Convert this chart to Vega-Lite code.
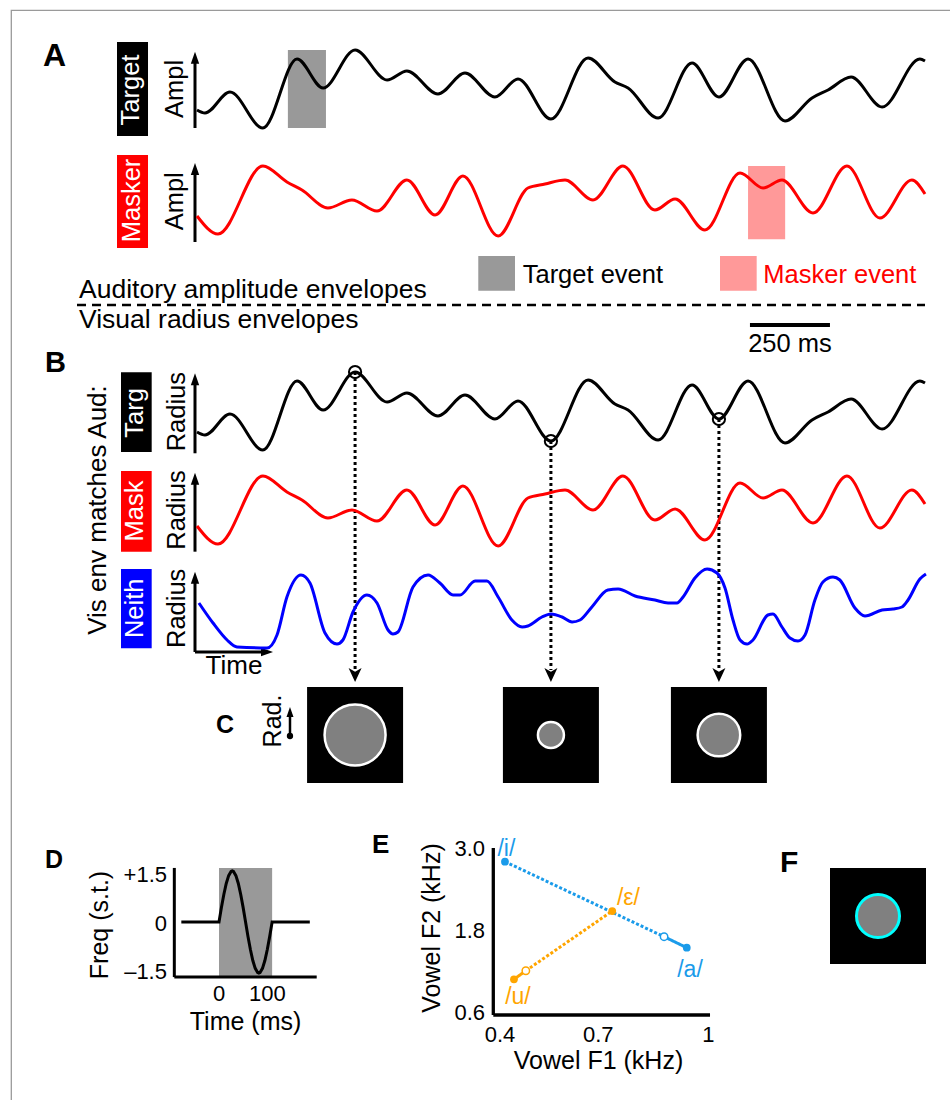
{
  "$schema": "https://vega.github.io/schema/vega-lite/v6.json",
  "width": 950,
  "height": 1100,
  "autosize": {"type": "none"},
  "padding": 0,
  "background": "white",
  "config": {
    "view": {"stroke": null},
    "text": {"font": "Liberation Sans", "fontSize": 25, "baseline": "alphabetic", "align": "center", "color": "black"}
  },
  "datasets": {
    "target": [
      {"t": 0, "a": 0.25}, {"t": 25, "a": 0.2125}, {"t": 103, "a": 0.475}, {"t": 206, "a": 0.025},
      {"t": 312.5, "a": 0.8875}, {"t": 394, "a": 0.525}, {"t": 494, "a": 1.0}, {"t": 594, "a": 0.625},
      {"t": 656, "a": 0.7375}, {"t": 753, "a": 0.45}, {"t": 837.5, "a": 0.7125}, {"t": 931, "a": 0.4125},
      {"t": 1003, "a": 0.6375}, {"t": 1106, "a": 0.1375}, {"t": 1222, "a": 0.9}, {"t": 1306, "a": 0.6},
      {"t": 1347, "a": 0.525}, {"t": 1441, "a": 0.15}, {"t": 1547, "a": 0.8375}, {"t": 1631, "a": 0.4125},
      {"t": 1722, "a": 0.8875}, {"t": 1837.5, "a": 0.1125}, {"t": 1922, "a": 0.4}, {"t": 1972, "a": 0.5},
      {"t": 2044, "a": 0.6625}, {"t": 2141, "a": 0.2875}, {"t": 2259, "a": 0.8875}, {"t": 2275, "a": 0.8625}
    ],
    "masker": [
      {"t": 0, "a": 0.3}, {"t": 65.6, "a": 0.075}, {"t": 206, "a": 0.925}, {"t": 281, "a": 0.725},
      {"t": 328, "a": 0.625}, {"t": 409, "a": 0.4}, {"t": 484, "a": 0.5}, {"t": 562.5, "a": 0.3625},
      {"t": 656, "a": 0.75}, {"t": 744, "a": 0.3125}, {"t": 831, "a": 0.8}, {"t": 941, "a": 0.05},
      {"t": 1034, "a": 0.65}, {"t": 1087.5, "a": 0.7}, {"t": 1150, "a": 0.75}, {"t": 1237.5, "a": 0.5},
      {"t": 1331, "a": 0.925}, {"t": 1431, "a": 0.375}, {"t": 1494, "a": 0.5125}, {"t": 1587.5, "a": 0.125},
      {"t": 1697, "a": 0.8375}, {"t": 1769, "a": 0.65}, {"t": 1828, "a": 0.75}, {"t": 1925, "a": 0.3375},
      {"t": 2031, "a": 0.925}, {"t": 2134, "a": 0.275}, {"t": 2234, "a": 0.75}, {"t": 2275, "a": 0.575}
    ],
    "neither": [
      {"t": 6, "a": 0.6125}, {"t": 50, "a": 0.3625}, {"t": 94, "a": 0.15}, {"t": 125, "a": 0.0625},
      {"t": 219, "a": 0.05}, {"t": 250, "a": 0.2125}, {"t": 281, "a": 0.6875}, {"t": 325, "a": 0.9625},
      {"t": 353, "a": 0.8625}, {"t": 400, "a": 0.2375}, {"t": 437.5, "a": 0.1}, {"t": 456, "a": 0.15},
      {"t": 487.5, "a": 0.5}, {"t": 531, "a": 0.7125}, {"t": 562.5, "a": 0.6125}, {"t": 597, "a": 0.275},
      {"t": 612.5, "a": 0.225}, {"t": 628, "a": 0.25}, {"t": 675, "a": 0.8125}, {"t": 722, "a": 0.9625},
      {"t": 759, "a": 0.8625}, {"t": 800, "a": 0.7125}, {"t": 822, "a": 0.7125}, {"t": 869, "a": 0.8875},
      {"t": 906, "a": 0.8875}, {"t": 941, "a": 0.6875}, {"t": 984, "a": 0.4}, {"t": 1016, "a": 0.3125},
      {"t": 1034, "a": 0.325}, {"t": 1078, "a": 0.4375}, {"t": 1106, "a": 0.475}, {"t": 1141, "a": 0.4375},
      {"t": 1172, "a": 0.375}, {"t": 1197, "a": 0.4}, {"t": 1234, "a": 0.5625}, {"t": 1284, "a": 0.775},
      {"t": 1316, "a": 0.7875}, {"t": 1369, "a": 0.7}, {"t": 1431, "a": 0.65}, {"t": 1472, "a": 0.6125},
      {"t": 1500, "a": 0.6125}, {"t": 1519, "a": 0.6875}, {"t": 1556, "a": 0.925}, {"t": 1594, "a": 1.0375},
      {"t": 1625, "a": 0.9875}, {"t": 1650, "a": 0.8}, {"t": 1675, "a": 0.4}, {"t": 1697, "a": 0.15},
      {"t": 1719, "a": 0.1}, {"t": 1737.5, "a": 0.15}, {"t": 1784, "a": 0.4625}, {"t": 1800, "a": 0.475},
      {"t": 1828, "a": 0.3125}, {"t": 1853, "a": 0.175}, {"t": 1878, "a": 0.1375}, {"t": 1900, "a": 0.2125},
      {"t": 1931, "a": 0.65}, {"t": 1956, "a": 0.875}, {"t": 1987.5, "a": 0.9375}, {"t": 2009, "a": 0.9},
      {"t": 2056, "a": 0.55}, {"t": 2087.5, "a": 0.45}, {"t": 2141, "a": 0.525}, {"t": 2175, "a": 0.5375},
      {"t": 2203, "a": 0.5625}, {"t": 2222, "a": 0.65}, {"t": 2259, "a": 0.9125}, {"t": 2278, "a": 0.975}
    ],
    "events": [
      {"event": "target", "start": 284, "end": 403},
      {"event": "masker", "start": 1722, "end": 1838}
    ],
    "samples": [
      {"t": 494, "a": 1.0, "radius": 30.5},
      {"t": 1106, "a": 0.1375, "radius": 13},
      {"t": 1631, "a": 0.4125, "radius": 21.3}
    ],
    "sweep": [
      {"t": -78, "f": 0}, {"t": 0, "f": 0}, {"t": 5, "f": 0.423}, {"t": 10, "f": 0.811}, {"t": 15, "f": 1.134},
      {"t": 20, "f": 1.364}, {"t": 25, "f": 1.485}, {"t": 27.5, "f": 1.5}, {"t": 30, "f": 1.485}, {"t": 35, "f": 1.364},
      {"t": 40, "f": 1.134}, {"t": 45, "f": 0.811}, {"t": 50, "f": 0.423}, {"t": 55, "f": 0}, {"t": 60, "f": -0.423},
      {"t": 65, "f": -0.811}, {"t": 70, "f": -1.134}, {"t": 75, "f": -1.364}, {"t": 80, "f": -1.485}, {"t": 82.5, "f": -1.5},
      {"t": 85, "f": -1.485}, {"t": 90, "f": -1.364}, {"t": 95, "f": -1.134}, {"t": 100, "f": -0.811}, {"t": 105, "f": -0.423},
      {"t": 110, "f": 0}, {"t": 188, "f": 0}
    ],
    "vowelSegs": [
      {"series": "i-a", "kind": "range", "f1": 0.436, "f2": 2.80, "f1b": 0.878, "f2b": 1.702},
      {"series": "i-a", "kind": "event", "f1": 0.878, "f2": 1.702, "f1b": 0.941, "f2b": 1.541},
      {"series": "u-ε", "kind": "range", "f1": 0.494, "f2": 1.204, "f1b": 0.734, "f2b": 2.078},
      {"series": "u-ε", "kind": "event", "f1": 0.461, "f2": 1.078, "f1b": 0.494, "f2b": 1.204}
    ],
    "vowelPts": [
      {"vowel": "/i/", "series": "i-a", "end": "filled", "f1": 0.436, "f2": 2.80},
      {"vowel": "", "series": "i-a", "end": "open", "f1": 0.878, "f2": 1.702},
      {"vowel": "/a/", "series": "i-a", "end": "filled", "f1": 0.941, "f2": 1.541},
      {"vowel": "/ε/", "series": "u-ε", "end": "filled", "f1": 0.734, "f2": 2.078},
      {"vowel": "", "series": "u-ε", "end": "open", "f1": 0.494, "f2": 1.204},
      {"vowel": "/u/", "series": "u-ε", "end": "filled", "f1": 0.461, "f2": 1.078}
    ]
  },
  "layer": [
    {
      "resolve": {"scale": {"y": "independent"}},
      "layer": [
        {
          "layer": [
            {"data": {"values": [{}]}, "mark": {"type": "rect", "filled": false, "color": "#9a9a9a", "strokeWidth": 1.3},
             "encoding": {"x": {"datum": -580.3, "type": "quantitative", "scale": {"domain": [0, 2275], "range": [197, 925], "nice": false, "zero": false}, "axis": null}, "x2": {"datum": 2520},
                          "y": {"datum": 1.496, "type": "quantitative", "scale": {"domain": [0, 1], "range": [130, 50], "nice": false, "zero": false}, "axis": null}, "y2": {"datum": -13.5}}},
            {"data": {"values": [{}]}, "mark": {"type": "text", "text": "A", "fontSize": 32, "fontWeight": "bold", "align": "left"},
             "encoding": {"x": {"datum": -481.25, "type": "quantitative", "scale": {"domain": [0, 2275], "range": [197, 925], "nice": false, "zero": false}, "axis": null},
                          "y": {"datum": 0.8, "type": "quantitative", "scale": {"domain": [0, 1], "range": [130, 50], "nice": false, "zero": false}, "axis": null}}},
            {"data": {"values": [{}]}, "mark": {"type": "rect", "color": "black"},
             "encoding": {"x": {"datum": -250, "type": "quantitative", "scale": {"domain": [0, 2275], "range": [197, 925], "nice": false, "zero": false}, "axis": null}, "x2": {"datum": -153.1},
                          "y": {"datum": 1.1, "type": "quantitative", "scale": {"domain": [0, 1], "range": [130, 50], "nice": false, "zero": false}, "axis": null}, "y2": {"datum": -0.075}}},
            {"data": {"values": [{}]}, "mark": {"type": "text", "text": "Target", "fontSize": 25.5, "angle": 270, "color": "white"},
             "encoding": {"x": {"datum": -181.25, "type": "quantitative", "scale": {"domain": [0, 2275], "range": [197, 925], "nice": false, "zero": false}, "axis": null},
                          "y": {"datum": 0.5, "type": "quantitative", "scale": {"domain": [0, 1], "range": [130, 50], "nice": false, "zero": false}, "axis": null}}},
            {"data": {"values": [{}]}, "mark": {"type": "text", "text": "Ampl", "fontSize": 25.5, "angle": 270},
             "encoding": {"x": {"datum": -43.75, "type": "quantitative", "scale": {"domain": [0, 2275], "range": [197, 925], "nice": false, "zero": false}, "axis": null},
                          "y": {"datum": 0.5125, "type": "quantitative", "scale": {"domain": [0, 1], "range": [130, 50], "nice": false, "zero": false}, "axis": null}}},
            {"data": {"values": [{}]}, "mark": {"type": "rule", "strokeWidth": 3, "color": "black"},
             "encoding": {"x": {"datum": -6.25, "type": "quantitative", "scale": {"domain": [0, 2275], "range": [197, 925], "nice": false, "zero": false}, "axis": null},
                          "y": {"datum": 0.025, "type": "quantitative", "scale": {"domain": [0, 1], "range": [130, 50], "nice": false, "zero": false}, "axis": null}, "y2": {"datum": 0.9}}},
            {"data": {"values": [{}]}, "mark": {"type": "point", "shape": "M0,-1L0.7,1L-0.7,1Z", "size": 144, "filled": true, "color": "black", "opacity": 1},
             "encoding": {"x": {"datum": -6.25, "type": "quantitative", "scale": {"domain": [0, 2275], "range": [197, 925], "nice": false, "zero": false}, "axis": null},
                          "y": {"datum": 0.904, "type": "quantitative", "scale": {"domain": [0, 1], "range": [130, 50], "nice": false, "zero": false}, "axis": null}}},
            {"data": {"name": "events"}, "transform": [{"filter": "datum.event == 'target'"}], "mark": {"type": "rect", "color": "#999999"},
             "encoding": {"x": {"field": "start", "type": "quantitative", "scale": {"domain": [0, 2275], "range": [197, 925], "nice": false, "zero": false}, "axis": null}, "x2": {"field": "end"},
                          "y": {"datum": 0.025, "type": "quantitative", "scale": {"domain": [0, 1], "range": [130, 50], "nice": false, "zero": false}, "axis": null}, "y2": {"datum": 1.0}}},
            {"data": {"name": "target"}, "mark": {"type": "line", "color": "black", "strokeWidth": 3, "interpolate": "monotone"},
             "encoding": {"x": {"field": "t", "type": "quantitative", "scale": {"domain": [0, 2275], "range": [197, 925], "nice": false, "zero": false}, "axis": null},
                          "y": {"field": "a", "type": "quantitative", "scale": {"domain": [0, 1], "range": [130, 50], "nice": false, "zero": false}, "axis": null}}}
          ]
        },
        {
          "layer": [
            {"data": {"values": [{}]}, "mark": {"type": "rect", "color": "#ff0000"},
             "encoding": {"x": {"datum": -250, "type": "quantitative", "scale": {"domain": [0, 2275], "range": [197, 925], "nice": false, "zero": false}, "axis": null}, "x2": {"datum": -153.1},
                          "y": {"datum": 1.0625, "type": "quantitative", "scale": {"domain": [0, 1], "range": [240, 160], "nice": false, "zero": false}, "axis": null}, "y2": {"datum": -0.1}}},
            {"data": {"values": [{}]}, "mark": {"type": "text", "text": "Masker", "fontSize": 25.5, "angle": 270, "color": "white"},
             "encoding": {"x": {"datum": -178.1, "type": "quantitative", "scale": {"domain": [0, 2275], "range": [197, 925], "nice": false, "zero": false}, "axis": null},
                          "y": {"datum": 0.494, "type": "quantitative", "scale": {"domain": [0, 1], "range": [240, 160], "nice": false, "zero": false}, "axis": null}}},
            {"data": {"values": [{}]}, "mark": {"type": "text", "text": "Ampl", "fontSize": 25.5, "angle": 270},
             "encoding": {"x": {"datum": -43.75, "type": "quantitative", "scale": {"domain": [0, 2275], "range": [197, 925], "nice": false, "zero": false}, "axis": null},
                          "y": {"datum": 0.484, "type": "quantitative", "scale": {"domain": [0, 1], "range": [240, 160], "nice": false, "zero": false}, "axis": null}}},
            {"data": {"values": [{}]}, "mark": {"type": "rule", "strokeWidth": 3, "color": "black"},
             "encoding": {"x": {"datum": -6.25, "type": "quantitative", "scale": {"domain": [0, 2275], "range": [197, 925], "nice": false, "zero": false}, "axis": null},
                          "y": {"datum": -0.025, "type": "quantitative", "scale": {"domain": [0, 1], "range": [240, 160], "nice": false, "zero": false}, "axis": null}, "y2": {"datum": 0.86}}},
            {"data": {"values": [{}]}, "mark": {"type": "point", "shape": "M0,-1L0.7,1L-0.7,1Z", "size": 144, "filled": true, "color": "black", "opacity": 1},
             "encoding": {"x": {"datum": -6.25, "type": "quantitative", "scale": {"domain": [0, 2275], "range": [197, 925], "nice": false, "zero": false}, "axis": null},
                          "y": {"datum": 0.8875, "type": "quantitative", "scale": {"domain": [0, 1], "range": [240, 160], "nice": false, "zero": false}, "axis": null}}},
            {"data": {"name": "events"}, "transform": [{"filter": "datum.event == 'masker'"}], "mark": {"type": "rect", "color": "#ff9999"},
             "encoding": {"x": {"field": "start", "type": "quantitative", "scale": {"domain": [0, 2275], "range": [197, 925], "nice": false, "zero": false}, "axis": null}, "x2": {"field": "end"},
                          "y": {"datum": 0.00875, "type": "quantitative", "scale": {"domain": [0, 1], "range": [240, 160], "nice": false, "zero": false}, "axis": null}, "y2": {"datum": 0.925}}},
            {"data": {"name": "masker"}, "mark": {"type": "line", "color": "#ff0000", "strokeWidth": 3, "interpolate": "monotone"},
             "encoding": {"x": {"field": "t", "type": "quantitative", "scale": {"domain": [0, 2275], "range": [197, 925], "nice": false, "zero": false}, "axis": null},
                          "y": {"field": "a", "type": "quantitative", "scale": {"domain": [0, 1], "range": [240, 160], "nice": false, "zero": false}, "axis": null}}},
            {"data": {"values": [{}]}, "mark": {"type": "rect", "color": "#999999"},
             "encoding": {"x": {"datum": 879, "type": "quantitative", "scale": {"domain": [0, 2275], "range": [197, 925], "nice": false, "zero": false}, "axis": null}, "x2": {"datum": 993.75},
                          "y": {"datum": -0.2, "type": "quantitative", "scale": {"domain": [0, 1], "range": [240, 160], "nice": false, "zero": false}, "axis": null}, "y2": {"datum": -0.634}}},
            {"data": {"values": [{}]}, "mark": {"type": "text", "text": "Target event", "fontSize": 25.5, "align": "left"},
             "encoding": {"x": {"datum": 1017.8, "type": "quantitative", "scale": {"domain": [0, 2275], "range": [197, 925], "nice": false, "zero": false}, "axis": null},
                          "y": {"datum": -0.534, "type": "quantitative", "scale": {"domain": [0, 1], "range": [240, 160], "nice": false, "zero": false}, "axis": null}}},
            {"data": {"values": [{}]}, "mark": {"type": "rect", "color": "#ff9999"},
             "encoding": {"x": {"datum": 1634.4, "type": "quantitative", "scale": {"domain": [0, 2275], "range": [197, 925], "nice": false, "zero": false}, "axis": null}, "x2": {"datum": 1749},
                          "y": {"datum": -0.2, "type": "quantitative", "scale": {"domain": [0, 1], "range": [240, 160], "nice": false, "zero": false}, "axis": null}, "y2": {"datum": -0.634}}},
            {"data": {"values": [{}]}, "mark": {"type": "text", "text": "Masker event", "fontSize": 25.5, "align": "left", "color": "#ff0000"},
             "encoding": {"x": {"datum": 1769.7, "type": "quantitative", "scale": {"domain": [0, 2275], "range": [197, 925], "nice": false, "zero": false}, "axis": null},
                          "y": {"datum": -0.534, "type": "quantitative", "scale": {"domain": [0, 1], "range": [240, 160], "nice": false, "zero": false}, "axis": null}}},
            {"data": {"values": [{}]}, "mark": {"type": "rule", "strokeWidth": 2.5, "color": "black", "strokeDash": [9, 6]},
             "encoding": {"x": {"datum": -375, "type": "quantitative", "scale": {"domain": [0, 2275], "range": [197, 925], "nice": false, "zero": false}, "axis": null}, "x2": {"datum": 2275},
                          "y": {"datum": -0.8125, "type": "quantitative", "scale": {"domain": [0, 1], "range": [240, 160], "nice": false, "zero": false}, "axis": null}}},
            {"data": {"values": [{}]}, "mark": {"type": "text", "text": "Auditory amplitude envelopes", "fontSize": 26.5, "align": "left"},
             "encoding": {"x": {"datum": -368.75, "type": "quantitative", "scale": {"domain": [0, 2275], "range": [197, 925], "nice": false, "zero": false}, "axis": null},
                          "y": {"datum": -0.72125, "type": "quantitative", "scale": {"domain": [0, 1], "range": [240, 160], "nice": false, "zero": false}, "axis": null}}},
            {"data": {"values": [{}]}, "mark": {"type": "text", "text": "Visual radius envelopes", "fontSize": 26.5, "align": "left"},
             "encoding": {"x": {"datum": -368.75, "type": "quantitative", "scale": {"domain": [0, 2275], "range": [197, 925], "nice": false, "zero": false}, "axis": null},
                          "y": {"datum": -1.1, "type": "quantitative", "scale": {"domain": [0, 1], "range": [240, 160], "nice": false, "zero": false}, "axis": null}}},
            {"data": {"values": [{}]}, "mark": {"type": "rule", "strokeWidth": 4, "color": "black"},
             "encoding": {"x": {"datum": 1728, "type": "quantitative", "scale": {"domain": [0, 2275], "range": [197, 925], "nice": false, "zero": false}, "axis": null}, "x2": {"datum": 1978},
                          "y": {"datum": -1.0625, "type": "quantitative", "scale": {"domain": [0, 1], "range": [240, 160], "nice": false, "zero": false}, "axis": null}}},
            {"data": {"values": [{}]}, "mark": {"type": "text", "text": "250 ms", "fontSize": 25.5},
             "encoding": {"x": {"datum": 1853, "type": "quantitative", "scale": {"domain": [0, 2275], "range": [197, 925], "nice": false, "zero": false}, "axis": null},
                          "y": {"datum": -1.4, "type": "quantitative", "scale": {"domain": [0, 1], "range": [240, 160], "nice": false, "zero": false}, "axis": null}}}
          ]
        },
        {
          "layer": [
            {"data": {"values": [{}]}, "mark": {"type": "text", "text": "B", "fontSize": 29, "fontWeight": "bold", "align": "left"},
             "encoding": {"x": {"datum": -475, "type": "quantitative", "scale": {"domain": [0, 2275], "range": [197, 925], "nice": false, "zero": false}, "axis": null},
                          "y": {"datum": 1.0, "type": "quantitative", "scale": {"domain": [0, 1], "range": [452, 372], "nice": false, "zero": false}, "axis": null}}},
            {"data": {"values": [{}]}, "mark": {"type": "text", "text": "Vis env matches Aud:", "fontSize": 26, "angle": 270},
             "encoding": {"x": {"datum": -284.4, "type": "quantitative", "scale": {"domain": [0, 2275], "range": [197, 925], "nice": false, "zero": false}, "axis": null},
                          "y": {"datum": -0.725, "type": "quantitative", "scale": {"domain": [0, 1], "range": [452, 372], "nice": false, "zero": false}, "axis": null}}},
            {"data": {"values": [{}]}, "mark": {"type": "rect", "color": "black"},
             "encoding": {"x": {"datum": -237.5, "type": "quantitative", "scale": {"domain": [0, 2275], "range": [197, 925], "nice": false, "zero": false}, "axis": null}, "x2": {"datum": -141.6},
                          "y": {"datum": 0, "type": "quantitative", "scale": {"domain": [0, 1], "range": [452, 372], "nice": false, "zero": false}, "axis": null}, "y2": {"datum": 0.996}}},
            {"data": {"values": [{}]}, "mark": {"type": "text", "text": "Targ", "fontSize": 25.5, "angle": 270, "color": "white"},
             "encoding": {"x": {"datum": -168.75, "type": "quantitative", "scale": {"domain": [0, 2275], "range": [197, 925], "nice": false, "zero": false}, "axis": null},
                          "y": {"datum": 0.4875, "type": "quantitative", "scale": {"domain": [0, 1], "range": [452, 372], "nice": false, "zero": false}, "axis": null}}},
            {"data": {"values": [{}]}, "mark": {"type": "text", "text": "Radius", "fontSize": 25.5, "angle": 270},
             "encoding": {"x": {"datum": -39.06, "type": "quantitative", "scale": {"domain": [0, 2275], "range": [197, 925], "nice": false, "zero": false}, "axis": null},
                          "y": {"datum": 0.504, "type": "quantitative", "scale": {"domain": [0, 1], "range": [452, 372], "nice": false, "zero": false}, "axis": null}}},
            {"data": {"values": [{}]}, "mark": {"type": "rule", "strokeWidth": 3, "color": "black"},
             "encoding": {"x": {"datum": -6.25, "type": "quantitative", "scale": {"domain": [0, 2275], "range": [197, 925], "nice": false, "zero": false}, "axis": null},
                          "y": {"datum": -0.016, "type": "quantitative", "scale": {"domain": [0, 1], "range": [452, 372], "nice": false, "zero": false}, "axis": null}, "y2": {"datum": 0.88}}},
            {"data": {"values": [{}]}, "mark": {"type": "point", "shape": "M0,-1L0.7,1L-0.7,1Z", "size": 144, "filled": true, "color": "black", "opacity": 1},
             "encoding": {"x": {"datum": -6.25, "type": "quantitative", "scale": {"domain": [0, 2275], "range": [197, 925], "nice": false, "zero": false}, "axis": null},
                          "y": {"datum": 0.909, "type": "quantitative", "scale": {"domain": [0, 1], "range": [452, 372], "nice": false, "zero": false}, "axis": null}}},
            {"data": {"name": "target"}, "mark": {"type": "line", "color": "black", "strokeWidth": 3, "interpolate": "monotone"},
             "encoding": {"x": {"field": "t", "type": "quantitative", "scale": {"domain": [0, 2275], "range": [197, 925], "nice": false, "zero": false}, "axis": null},
                          "y": {"field": "a", "type": "quantitative", "scale": {"domain": [0, 1], "range": [452, 372], "nice": false, "zero": false}, "axis": null}}},
            {"data": {"name": "samples"}, "mark": {"type": "rule", "strokeWidth": 3, "color": "black", "strokeDash": [3, 3]},
             "encoding": {"x": {"field": "t", "type": "quantitative", "scale": {"domain": [0, 2275], "range": [197, 925], "nice": false, "zero": false}, "axis": null},
                          "y": {"field": "a", "type": "quantitative", "scale": {"domain": [0, 1], "range": [452, 372], "nice": false, "zero": false}, "axis": null}, "y2": {"datum": -2.725}}},
            {"data": {"name": "samples"}, "mark": {"type": "point", "shape": "circle", "size": 150, "filled": false, "color": "black", "strokeWidth": 2, "opacity": 1},
             "encoding": {"x": {"field": "t", "type": "quantitative", "scale": {"domain": [0, 2275], "range": [197, 925], "nice": false, "zero": false}, "axis": null},
                          "y": {"field": "a", "type": "quantitative", "scale": {"domain": [0, 1], "range": [452, 372], "nice": false, "zero": false}, "axis": null}}},
            {"data": {"name": "samples"}, "mark": {"type": "point", "shape": "M0,1L-0.93,-1L0,-0.45L0.93,-1Z", "size": 196, "filled": true, "color": "black", "opacity": 1},
             "encoding": {"x": {"field": "t", "type": "quantitative", "scale": {"domain": [0, 2275], "range": [197, 925], "nice": false, "zero": false}, "axis": null},
                          "y": {"datum": -2.7875, "type": "quantitative", "scale": {"domain": [0, 1], "range": [452, 372], "nice": false, "zero": false}, "axis": null}}}
          ]
        },
        {
          "layer": [
            {"data": {"values": [{}]}, "mark": {"type": "rect", "color": "#ff0000"},
             "encoding": {"x": {"datum": -237.5, "type": "quantitative", "scale": {"domain": [0, 2275], "range": [197, 925], "nice": false, "zero": false}, "axis": null}, "x2": {"datum": -141.6},
                          "y": {"datum": -0.021, "type": "quantitative", "scale": {"domain": [0, 1], "range": [550, 470], "nice": false, "zero": false}, "axis": null}, "y2": {"datum": 0.9875}}},
            {"data": {"values": [{}]}, "mark": {"type": "text", "text": "Mask", "fontSize": 25.5, "angle": 270, "color": "white"},
             "encoding": {"x": {"datum": -168.75, "type": "quantitative", "scale": {"domain": [0, 2275], "range": [197, 925], "nice": false, "zero": false}, "axis": null},
                          "y": {"datum": 0.4875, "type": "quantitative", "scale": {"domain": [0, 1], "range": [550, 470], "nice": false, "zero": false}, "axis": null}}},
            {"data": {"values": [{}]}, "mark": {"type": "text", "text": "Radius", "fontSize": 25.5, "angle": 270},
             "encoding": {"x": {"datum": -39.06, "type": "quantitative", "scale": {"domain": [0, 2275], "range": [197, 925], "nice": false, "zero": false}, "axis": null},
                          "y": {"datum": 0.5, "type": "quantitative", "scale": {"domain": [0, 1], "range": [550, 470], "nice": false, "zero": false}, "axis": null}}},
            {"data": {"values": [{}]}, "mark": {"type": "rule", "strokeWidth": 3, "color": "black"},
             "encoding": {"x": {"datum": -6.25, "type": "quantitative", "scale": {"domain": [0, 2275], "range": [197, 925], "nice": false, "zero": false}, "axis": null},
                          "y": {"datum": -0.021, "type": "quantitative", "scale": {"domain": [0, 1], "range": [550, 470], "nice": false, "zero": false}, "axis": null}, "y2": {"datum": 0.86}}},
            {"data": {"values": [{}]}, "mark": {"type": "point", "shape": "M0,-1L0.7,1L-0.7,1Z", "size": 144, "filled": true, "color": "black", "opacity": 1},
             "encoding": {"x": {"datum": -6.25, "type": "quantitative", "scale": {"domain": [0, 2275], "range": [197, 925], "nice": false, "zero": false}, "axis": null},
                          "y": {"datum": 0.891, "type": "quantitative", "scale": {"domain": [0, 1], "range": [550, 470], "nice": false, "zero": false}, "axis": null}}},
            {"data": {"name": "masker"}, "mark": {"type": "line", "color": "#ff0000", "strokeWidth": 3, "interpolate": "monotone"},
             "encoding": {"x": {"field": "t", "type": "quantitative", "scale": {"domain": [0, 2275], "range": [197, 925], "nice": false, "zero": false}, "axis": null},
                          "y": {"field": "a", "type": "quantitative", "scale": {"domain": [0, 1], "range": [550, 470], "nice": false, "zero": false}, "axis": null}}}
          ]
        },
        {
          "layer": [
            {"data": {"values": [{}]}, "mark": {"type": "rect", "color": "#0000ff"},
             "encoding": {"x": {"datum": -237.5, "type": "quantitative", "scale": {"domain": [0, 2275], "range": [197, 925], "nice": false, "zero": false}, "axis": null}, "x2": {"datum": -141.6},
                          "y": {"datum": 0.046, "type": "quantitative", "scale": {"domain": [0, 1], "range": [652, 572], "nice": false, "zero": false}, "axis": null}, "y2": {"datum": 1.0375}}},
            {"data": {"values": [{}]}, "mark": {"type": "text", "text": "Neith", "fontSize": 25.5, "angle": 270, "color": "white"},
             "encoding": {"x": {"datum": -168.75, "type": "quantitative", "scale": {"domain": [0, 2275], "range": [197, 925], "nice": false, "zero": false}, "axis": null},
                          "y": {"datum": 0.546, "type": "quantitative", "scale": {"domain": [0, 1], "range": [652, 572], "nice": false, "zero": false}, "axis": null}}},
            {"data": {"values": [{}]}, "mark": {"type": "text", "text": "Radius", "fontSize": 25.5, "angle": 270},
             "encoding": {"x": {"datum": -39.06, "type": "quantitative", "scale": {"domain": [0, 2275], "range": [197, 925], "nice": false, "zero": false}, "axis": null},
                          "y": {"datum": 0.546, "type": "quantitative", "scale": {"domain": [0, 1], "range": [652, 572], "nice": false, "zero": false}, "axis": null}}},
            {"data": {"values": [{}]}, "mark": {"type": "rule", "strokeWidth": 3, "color": "black"},
             "encoding": {"x": {"datum": -6.25, "type": "quantitative", "scale": {"domain": [0, 2275], "range": [197, 925], "nice": false, "zero": false}, "axis": null},
                          "y": {"datum": 0, "type": "quantitative", "scale": {"domain": [0, 1], "range": [652, 572], "nice": false, "zero": false}, "axis": null}, "y2": {"datum": 0.89}}},
            {"data": {"values": [{}]}, "mark": {"type": "point", "shape": "M0,-1L0.7,1L-0.7,1Z", "size": 144, "filled": true, "color": "black", "opacity": 1},
             "encoding": {"x": {"datum": -6.25, "type": "quantitative", "scale": {"domain": [0, 2275], "range": [197, 925], "nice": false, "zero": false}, "axis": null},
                          "y": {"datum": 0.929, "type": "quantitative", "scale": {"domain": [0, 1], "range": [652, 572], "nice": false, "zero": false}, "axis": null}}},
            {"data": {"values": [{}]}, "mark": {"type": "rule", "strokeWidth": 3, "color": "black"},
             "encoding": {"x": {"datum": -6.25, "type": "quantitative", "scale": {"domain": [0, 2275], "range": [197, 925], "nice": false, "zero": false}, "axis": null}, "x2": {"datum": 215.6},
                          "y": {"datum": 0, "type": "quantitative", "scale": {"domain": [0, 1], "range": [652, 572], "nice": false, "zero": false}, "axis": null}}},
            {"data": {"values": [{}]}, "mark": {"type": "point", "shape": "M1,0L-1,-0.7L-1,0.7Z", "size": 144, "filled": true, "color": "black", "opacity": 1},
             "encoding": {"x": {"datum": 218.75, "type": "quantitative", "scale": {"domain": [0, 2275], "range": [197, 925], "nice": false, "zero": false}, "axis": null},
                          "y": {"datum": 0, "type": "quantitative", "scale": {"domain": [0, 1], "range": [652, 572], "nice": false, "zero": false}, "axis": null}}},
            {"data": {"values": [{}]}, "mark": {"type": "text", "text": "Time", "fontSize": 26},
             "encoding": {"x": {"datum": 115.6, "type": "quantitative", "scale": {"domain": [0, 2275], "range": [197, 925], "nice": false, "zero": false}, "axis": null},
                          "y": {"datum": -0.275, "type": "quantitative", "scale": {"domain": [0, 1], "range": [652, 572], "nice": false, "zero": false}, "axis": null}}},
            {"data": {"name": "neither"}, "mark": {"type": "line", "color": "#0000ff", "strokeWidth": 3, "interpolate": "monotone"},
             "encoding": {"x": {"field": "t", "type": "quantitative", "scale": {"domain": [0, 2275], "range": [197, 925], "nice": false, "zero": false}, "axis": null},
                          "y": {"field": "a", "type": "quantitative", "scale": {"domain": [0, 1], "range": [652, 572], "nice": false, "zero": false}, "axis": null}}}
          ]
        },
        {
          "layer": [
            {"data": {"name": "samples"}, "mark": {"type": "point", "shape": "square", "size": 9216, "filled": true, "color": "black", "opacity": 1, "strokeWidth": 0},
             "encoding": {"x": {"field": "t", "type": "quantitative", "scale": {"domain": [0, 2275], "range": [197, 925], "nice": false, "zero": false}, "axis": null},
                          "y": {"datum": 0.5, "type": "quantitative", "scale": {"domain": [0, 1], "range": [783, 687], "nice": false, "zero": false}, "axis": null}}},
            {"data": {"name": "samples"}, "mark": {"type": "point", "shape": "circle", "filled": true, "fill": "#808080", "stroke": "white", "strokeWidth": 2.5, "opacity": 1},
             "encoding": {"x": {"field": "t", "type": "quantitative", "scale": {"domain": [0, 2275], "range": [197, 925], "nice": false, "zero": false}, "axis": null},
                          "y": {"datum": 0.5, "type": "quantitative", "scale": {"domain": [0, 1], "range": [783, 687], "nice": false, "zero": false}, "axis": null},
                          "size": {"field": "radius", "type": "quantitative", "scale": {"type": "pow", "exponent": 2, "domain": [0, 40], "range": [0, 6400], "nice": false, "zero": false}, "legend": null}}},
            {"data": {"values": [{}]}, "mark": {"type": "text", "text": "C", "fontSize": 25, "fontWeight": "bold", "align": "left"},
             "encoding": {"x": {"datum": 59.4, "type": "quantitative", "scale": {"domain": [0, 2275], "range": [197, 925], "nice": false, "zero": false}, "axis": null},
                          "y": {"datum": 0.521, "type": "quantitative", "scale": {"domain": [0, 1], "range": [783, 687], "nice": false, "zero": false}, "axis": null}}},
            {"data": {"values": [{}]}, "mark": {"type": "text", "text": "Rad.", "fontSize": 25, "angle": 270},
             "encoding": {"x": {"datum": 264, "type": "quantitative", "scale": {"domain": [0, 2275], "range": [197, 925], "nice": false, "zero": false}, "axis": null},
                          "y": {"datum": 0.646, "type": "quantitative", "scale": {"domain": [0, 1], "range": [783, 687], "nice": false, "zero": false}, "axis": null}}},
            {"data": {"values": [{}]}, "mark": {"type": "rule", "strokeWidth": 2.5, "color": "black"},
             "encoding": {"x": {"datum": 290.6, "type": "quantitative", "scale": {"domain": [0, 2275], "range": [197, 925], "nice": false, "zero": false}, "axis": null},
                          "y": {"datum": 0.4896, "type": "quantitative", "scale": {"domain": [0, 1], "range": [783, 687], "nice": false, "zero": false}, "axis": null}, "y2": {"datum": 0.74}}},
            {"data": {"values": [{}]}, "mark": {"type": "point", "shape": "M0,-1L0.7,1L-0.7,1Z", "size": 100, "filled": true, "color": "black", "opacity": 1},
             "encoding": {"x": {"datum": 290.6, "type": "quantitative", "scale": {"domain": [0, 2275], "range": [197, 925], "nice": false, "zero": false}, "axis": null},
                          "y": {"datum": 0.7396, "type": "quantitative", "scale": {"domain": [0, 1], "range": [783, 687], "nice": false, "zero": false}, "axis": null}}},
            {"data": {"values": [{}]}, "mark": {"type": "point", "shape": "circle", "size": 40, "filled": true, "color": "black", "opacity": 1},
             "encoding": {"x": {"datum": 290.6, "type": "quantitative", "scale": {"domain": [0, 2275], "range": [197, 925], "nice": false, "zero": false}, "axis": null},
                          "y": {"datum": 0.4896, "type": "quantitative", "scale": {"domain": [0, 1], "range": [783, 687], "nice": false, "zero": false}, "axis": null}}}
          ]
        }
      ]
    },
    {
      "layer": [
        {"data": {"values": [{}]}, "mark": {"type": "rect", "color": "#999999"},
         "encoding": {"x": {"datum": 0, "type": "quantitative", "scale": {"domain": [-100, 200], "range": [170.7, 315.6], "nice": false, "zero": false}, "axis": null}, "x2": {"datum": 110},
                      "y": {"datum": -1.62, "type": "quantitative", "scale": {"domain": [-1.5, 1.5], "range": [973, 871], "nice": false, "zero": false}, "axis": null}, "y2": {"datum": 1.59}}},
        {"data": {"name": "sweep"}, "mark": {"type": "line", "color": "black", "strokeWidth": 3, "interpolate": "linear"},
         "encoding": {"x": {"field": "t", "type": "quantitative", "scale": {"domain": [-100, 200], "range": [170.7, 315.6], "nice": false, "zero": false}, "axis": null},
                      "y": {"field": "f", "type": "quantitative", "scale": {"domain": [-1.5, 1.5], "range": [973, 871], "nice": false, "zero": false}, "axis": null}}},
        {"data": {"values": [{}]}, "mark": {"type": "rule", "strokeWidth": 3, "color": "black"},
         "encoding": {"x": {"datum": -92.5, "type": "quantitative", "scale": {"domain": [-100, 200], "range": [170.7, 315.6], "nice": false, "zero": false}, "axis": null},
                      "y": {"datum": -1.62, "type": "quantitative", "scale": {"domain": [-1.5, 1.5], "range": [973, 871], "nice": false, "zero": false}, "axis": null}, "y2": {"datum": 1.59}}},
        {"data": {"values": [{}]}, "mark": {"type": "rule", "strokeWidth": 3, "color": "black"},
         "encoding": {"x": {"datum": -92.5, "type": "quantitative", "scale": {"domain": [-100, 200], "range": [170.7, 315.6], "nice": false, "zero": false}, "axis": null}, "x2": {"datum": 202.3},
                      "y": {"datum": -1.62, "type": "quantitative", "scale": {"domain": [-1.5, 1.5], "range": [973, 871], "nice": false, "zero": false}, "axis": null}}},
        {"data": {"values": [{}]}, "mark": {"type": "text", "text": "+1.5", "fontSize": 22, "align": "right"},
         "encoding": {"x": {"datum": -107.7, "type": "quantitative", "scale": {"domain": [-100, 200], "range": [170.7, 315.6], "nice": false, "zero": false}, "axis": null},
                      "y": {"datum": 1.162, "type": "quantitative", "scale": {"domain": [-1.5, 1.5], "range": [973, 871], "nice": false, "zero": false}, "axis": null}}},
        {"data": {"values": [{}]}, "mark": {"type": "text", "text": "0", "fontSize": 22, "align": "right"},
         "encoding": {"x": {"datum": -107.7, "type": "quantitative", "scale": {"domain": [-100, 200], "range": [170.7, 315.6], "nice": false, "zero": false}, "axis": null},
                      "y": {"datum": -0.25, "type": "quantitative", "scale": {"domain": [-1.5, 1.5], "range": [973, 871], "nice": false, "zero": false}, "axis": null}}},
        {"data": {"values": [{}]}, "mark": {"type": "text", "text": "–1.5", "fontSize": 22, "align": "right"},
         "encoding": {"x": {"datum": -107.7, "type": "quantitative", "scale": {"domain": [-100, 200], "range": [170.7, 315.6], "nice": false, "zero": false}, "axis": null},
                      "y": {"datum": -1.691, "type": "quantitative", "scale": {"domain": [-1.5, 1.5], "range": [973, 871], "nice": false, "zero": false}, "axis": null}}},
        {"data": {"values": [{}]}, "mark": {"type": "text", "text": "0", "fontSize": 22},
         "encoding": {"x": {"datum": 0, "type": "quantitative", "scale": {"domain": [-100, 200], "range": [170.7, 315.6], "nice": false, "zero": false}, "axis": null},
                      "y": {"datum": -2.309, "type": "quantitative", "scale": {"domain": [-1.5, 1.5], "range": [973, 871], "nice": false, "zero": false}, "axis": null}}},
        {"data": {"values": [{}]}, "mark": {"type": "text", "text": "100", "fontSize": 22},
         "encoding": {"x": {"datum": 100, "type": "quantitative", "scale": {"domain": [-100, 200], "range": [170.7, 315.6], "nice": false, "zero": false}, "axis": null},
                      "y": {"datum": -2.309, "type": "quantitative", "scale": {"domain": [-1.5, 1.5], "range": [973, 871], "nice": false, "zero": false}, "axis": null}}},
        {"data": {"values": [{}]}, "mark": {"type": "text", "text": "Time (ms)", "fontSize": 25},
         "encoding": {"x": {"datum": 54.9, "type": "quantitative", "scale": {"domain": [-100, 200], "range": [170.7, 315.6], "nice": false, "zero": false}, "axis": null},
                      "y": {"datum": -3.162, "type": "quantitative", "scale": {"domain": [-1.5, 1.5], "range": [973, 871], "nice": false, "zero": false}, "axis": null}}},
        {"data": {"values": [{}]}, "mark": {"type": "text", "text": "Freq (s.t.)", "fontSize": 25, "angle": 270},
         "encoding": {"x": {"datum": -229.8, "type": "quantitative", "scale": {"domain": [-100, 200], "range": [170.7, 315.6], "nice": false, "zero": false}, "axis": null},
                      "y": {"datum": -0.088, "type": "quantitative", "scale": {"domain": [-1.5, 1.5], "range": [973, 871], "nice": false, "zero": false}, "axis": null}}},
        {"data": {"values": [{}]}, "mark": {"type": "text", "text": "D", "fontSize": 25, "fontWeight": "bold", "align": "left"},
         "encoding": {"x": {"datum": -360.2, "type": "quantitative", "scale": {"domain": [-100, 200], "range": [170.7, 315.6], "nice": false, "zero": false}, "axis": null},
                      "y": {"datum": 1.588, "type": "quantitative", "scale": {"domain": [-1.5, 1.5], "range": [973, 871], "nice": false, "zero": false}, "axis": null}}}
      ]
    },
    {
      "layer": [
        {"data": {"values": [{}]}, "mark": {"type": "rule", "strokeWidth": 3.3, "color": "black"},
         "encoding": {"x": {"datum": 0.4036, "type": "quantitative", "scale": {"domain": [0.4, 1.0], "range": [492, 708], "nice": false, "zero": false}, "axis": null},
                      "y": {"datum": 0.556, "type": "quantitative", "scale": {"domain": [0.6, 3.0], "range": [1012, 848], "nice": false, "zero": false}, "axis": null}, "y2": {"datum": 3.0}}},
        {"data": {"values": [{}]}, "mark": {"type": "rule", "strokeWidth": 3.3, "color": "black"},
         "encoding": {"x": {"datum": 0.4036, "type": "quantitative", "scale": {"domain": [0.4, 1.0], "range": [492, 708], "nice": false, "zero": false}, "axis": null}, "x2": {"datum": 1.0056},
                      "y": {"datum": 0.556, "type": "quantitative", "scale": {"domain": [0.6, 3.0], "range": [1012, 848], "nice": false, "zero": false}, "axis": null}}},
        {"data": {"name": "vowelSegs"}, "mark": {"type": "rule", "strokeWidth": 3},
         "encoding": {"x": {"field": "f1", "type": "quantitative", "scale": {"domain": [0.4, 1.0], "range": [492, 708], "nice": false, "zero": false}, "axis": null}, "x2": {"field": "f1b"},
                      "y": {"field": "f2", "type": "quantitative", "scale": {"domain": [0.6, 3.0], "range": [1012, 848], "nice": false, "zero": false}, "axis": null}, "y2": {"field": "f2b"},
                      "color": {"field": "series", "type": "nominal", "scale": {"domain": ["i-a", "u-ε"], "range": ["#1a9bea", "#ffa500"]}, "legend": null},
                      "strokeDash": {"field": "kind", "type": "nominal", "scale": {"domain": ["range", "event"], "range": [[3, 2], [1, 0]]}, "legend": null}}},
        {"data": {"name": "vowelPts"}, "transform": [{"filter": "datum.end == 'filled'"}], "mark": {"type": "point", "shape": "circle", "filled": true, "size": 60, "opacity": 1},
         "encoding": {"x": {"field": "f1", "type": "quantitative", "scale": {"domain": [0.4, 1.0], "range": [492, 708], "nice": false, "zero": false}, "axis": null},
                      "y": {"field": "f2", "type": "quantitative", "scale": {"domain": [0.6, 3.0], "range": [1012, 848], "nice": false, "zero": false}, "axis": null},
                      "color": {"field": "series", "type": "nominal", "scale": {"domain": ["i-a", "u-ε"], "range": ["#1a9bea", "#ffa500"]}, "legend": null}}},
        {"data": {"name": "vowelPts"}, "transform": [{"filter": "datum.end == 'open'"}], "mark": {"type": "point", "shape": "circle", "fill": "white", "size": 55, "strokeWidth": 1.5, "opacity": 1},
         "encoding": {"x": {"field": "f1", "type": "quantitative", "scale": {"domain": [0.4, 1.0], "range": [492, 708], "nice": false, "zero": false}, "axis": null},
                      "y": {"field": "f2", "type": "quantitative", "scale": {"domain": [0.6, 3.0], "range": [1012, 848], "nice": false, "zero": false}, "axis": null},
                      "stroke": {"field": "series", "type": "nominal", "scale": {"domain": ["i-a", "u-ε"], "range": ["#1a9bea", "#ffa500"]}, "legend": null}}},
        {"data": {"values": [{}]}, "mark": {"type": "text", "text": "/i/", "fontSize": 23, "color": "#1a9bea"},
         "encoding": {"x": {"datum": 0.44, "type": "quantitative", "scale": {"domain": [0.4, 1.0], "range": [492, 708], "nice": false, "zero": false}, "axis": null},
                      "y": {"datum": 2.876, "type": "quantitative", "scale": {"domain": [0.6, 3.0], "range": [1012, 848], "nice": false, "zero": false}, "axis": null}}},
        {"data": {"values": [{}]}, "mark": {"type": "text", "text": "/ε/", "fontSize": 23, "color": "#ffa500"},
         "encoding": {"x": {"datum": 0.779, "type": "quantitative", "scale": {"domain": [0.4, 1.0], "range": [492, 708], "nice": false, "zero": false}, "axis": null},
                      "y": {"datum": 2.159, "type": "quantitative", "scale": {"domain": [0.6, 3.0], "range": [1012, 848], "nice": false, "zero": false}, "axis": null}}},
        {"data": {"values": [{}]}, "mark": {"type": "text", "text": "/a/", "fontSize": 23, "color": "#1a9bea"},
         "encoding": {"x": {"datum": 0.95, "type": "quantitative", "scale": {"domain": [0.4, 1.0], "range": [492, 708], "nice": false, "zero": false}, "axis": null},
                      "y": {"datum": 1.1195, "type": "quantitative", "scale": {"domain": [0.6, 3.0], "range": [1012, 848], "nice": false, "zero": false}, "axis": null}}},
        {"data": {"values": [{}]}, "mark": {"type": "text", "text": "/u/", "fontSize": 23, "color": "#ffa500"},
         "encoding": {"x": {"datum": 0.472, "type": "quantitative", "scale": {"domain": [0.4, 1.0], "range": [492, 708], "nice": false, "zero": false}, "axis": null},
                      "y": {"datum": 0.717, "type": "quantitative", "scale": {"domain": [0.6, 3.0], "range": [1012, 848], "nice": false, "zero": false}, "axis": null}}},
        {"data": {"values": [{}]}, "mark": {"type": "text", "text": "3.0", "fontSize": 22, "align": "right"},
         "encoding": {"x": {"datum": 0.3806, "type": "quantitative", "scale": {"domain": [0.4, 1.0], "range": [492, 708], "nice": false, "zero": false}, "axis": null},
                      "y": {"datum": 2.883, "type": "quantitative", "scale": {"domain": [0.6, 3.0], "range": [1012, 848], "nice": false, "zero": false}, "axis": null}}},
        {"data": {"values": [{}]}, "mark": {"type": "text", "text": "1.8", "fontSize": 22, "align": "right"},
         "encoding": {"x": {"datum": 0.3806, "type": "quantitative", "scale": {"domain": [0.4, 1.0], "range": [492, 708], "nice": false, "zero": false}, "axis": null},
                      "y": {"datum": 1.683, "type": "quantitative", "scale": {"domain": [0.6, 3.0], "range": [1012, 848], "nice": false, "zero": false}, "axis": null}}},
        {"data": {"values": [{}]}, "mark": {"type": "text", "text": "0.6", "fontSize": 22, "align": "right"},
         "encoding": {"x": {"datum": 0.3806, "type": "quantitative", "scale": {"domain": [0.4, 1.0], "range": [492, 708], "nice": false, "zero": false}, "axis": null},
                      "y": {"datum": 0.487, "type": "quantitative", "scale": {"domain": [0.6, 3.0], "range": [1012, 848], "nice": false, "zero": false}, "axis": null}}},
        {"data": {"values": [{}]}, "mark": {"type": "text", "text": "0.4", "fontSize": 22},
         "encoding": {"x": {"datum": 0.4222, "type": "quantitative", "scale": {"domain": [0.4, 1.0], "range": [492, 708], "nice": false, "zero": false}, "axis": null},
                      "y": {"datum": 0.165, "type": "quantitative", "scale": {"domain": [0.6, 3.0], "range": [1012, 848], "nice": false, "zero": false}, "axis": null}}},
        {"data": {"values": [{}]}, "mark": {"type": "text", "text": "0.7", "fontSize": 22},
         "encoding": {"x": {"datum": 0.6953, "type": "quantitative", "scale": {"domain": [0.4, 1.0], "range": [492, 708], "nice": false, "zero": false}, "axis": null},
                      "y": {"datum": 0.165, "type": "quantitative", "scale": {"domain": [0.6, 3.0], "range": [1012, 848], "nice": false, "zero": false}, "axis": null}}},
        {"data": {"values": [{}]}, "mark": {"type": "text", "text": "1", "fontSize": 22},
         "encoding": {"x": {"datum": 1.0008, "type": "quantitative", "scale": {"domain": [0.4, 1.0], "range": [492, 708], "nice": false, "zero": false}, "axis": null},
                      "y": {"datum": 0.165, "type": "quantitative", "scale": {"domain": [0.6, 3.0], "range": [1012, 848], "nice": false, "zero": false}, "axis": null}}},
        {"data": {"values": [{}]}, "mark": {"type": "text", "text": "Vowel F1 (kHz)", "fontSize": 25},
         "encoding": {"x": {"datum": 0.6958, "type": "quantitative", "scale": {"domain": [0.4, 1.0], "range": [492, 708], "nice": false, "zero": false}, "axis": null},
                      "y": {"datum": -0.234, "type": "quantitative", "scale": {"domain": [0.6, 3.0], "range": [1012, 848], "nice": false, "zero": false}, "axis": null}}},
        {"data": {"values": [{}]}, "mark": {"type": "text", "text": "Vowel F2 (kHz)", "fontSize": 25, "angle": 270},
         "encoding": {"x": {"datum": 0.2556, "type": "quantitative", "scale": {"domain": [0.4, 1.0], "range": [492, 708], "nice": false, "zero": false}, "axis": null},
                      "y": {"datum": 1.829, "type": "quantitative", "scale": {"domain": [0.6, 3.0], "range": [1012, 848], "nice": false, "zero": false}, "axis": null}}},
        {"data": {"values": [{}]}, "mark": {"type": "text", "text": "E", "fontSize": 26, "fontWeight": "bold", "align": "left"},
         "encoding": {"x": {"datum": 0.0667, "type": "quantitative", "scale": {"domain": [0.4, 1.0], "range": [492, 708], "nice": false, "zero": false}, "axis": null},
                      "y": {"datum": 2.927, "type": "quantitative", "scale": {"domain": [0.6, 3.0], "range": [1012, 848], "nice": false, "zero": false}, "axis": null}}}
      ]
    },
    {
      "layer": [
        {"data": {"values": [{}]}, "mark": {"type": "point", "shape": "square", "size": 9216, "filled": true, "color": "black", "opacity": 1, "strokeWidth": 0},
         "encoding": {"x": {"datum": 0.5, "type": "quantitative", "scale": {"domain": [0, 1], "range": [830, 926], "nice": false, "zero": false}, "axis": null},
                      "y": {"datum": 0.5, "type": "quantitative", "scale": {"domain": [0, 1], "range": [964, 868], "nice": false, "zero": false}, "axis": null}}},
        {"data": {"values": [{}]}, "mark": {"type": "point", "shape": "circle", "size": 1849, "filled": true, "fill": "#808080", "stroke": "#00ffff", "strokeWidth": 3, "opacity": 1},
         "encoding": {"x": {"datum": 0.5, "type": "quantitative", "scale": {"domain": [0, 1], "range": [830, 926], "nice": false, "zero": false}, "axis": null},
                      "y": {"datum": 0.5, "type": "quantitative", "scale": {"domain": [0, 1], "range": [964, 868], "nice": false, "zero": false}, "axis": null}}},
        {"data": {"values": [{}]}, "mark": {"type": "text", "text": "F", "fontSize": 30, "fontWeight": "bold", "align": "left"},
         "encoding": {"x": {"datum": -0.521, "type": "quantitative", "scale": {"domain": [0, 1], "range": [830, 926], "nice": false, "zero": false}, "axis": null},
                      "y": {"datum": 0.961, "type": "quantitative", "scale": {"domain": [0, 1], "range": [964, 868], "nice": false, "zero": false}, "axis": null}}}
      ]
    }
  ],
  "resolve": {"scale": {"x": "independent", "y": "independent"}}
}
